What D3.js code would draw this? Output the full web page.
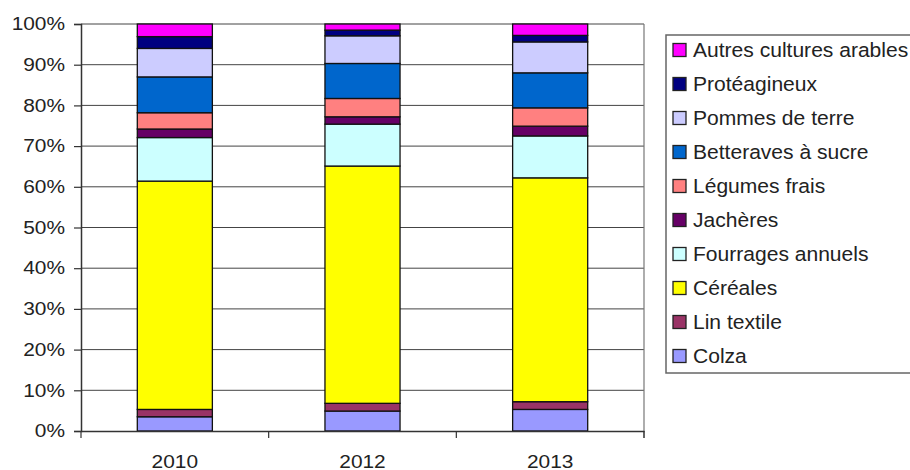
<!DOCTYPE html>
<html><head><meta charset="utf-8">
<script src="https://cdn.jsdelivr.net/npm/d3@7"></script>
<style>body{margin:0;background:#fff}svg{display:block}</style>
</head><body>
<svg id="c" width="910" height="470"></svg>
<script>
const years = ["2010", "2012", "2013"];
const seriesNames = ["Colza", "Lin textile", "Céréales", "Fourrages annuels", "Jachères",
  "Légumes frais", "Betteraves à sucre", "Pommes de terre", "Protéagineux", "Autres cultures arables"];
const colza = [3.5, 4.9, 5.3];
const linTextile = [1.8, 1.9, 1.9];
const cereales = [56.1, 58.3, 55.0];
const fourrages = [10.7, 10.3, 10.3];
const jacheres = [2.1, 1.8, 2.4];
const legumes = [4.0, 4.5, 4.5];
const betteraves = [8.8, 8.6, 8.6];
const pommes = [7.0, 6.8, 7.6];
const proteagineux = [2.9, 1.4, 1.6];
const autres = [3.1, 1.5, 2.8];
const colors = ["#9999FF", "#993366", "#FFFF00", "#CCFFFF", "#660066",
  "#FF8080", "#0066CC", "#CCCCFF", "#000080", "#FF00FF"];
const yTicks = [0, 10, 20, 30, 40, 50, 60, 70, 80, 90, 100];

const seriesVals = [colza, linTextile, cereales, fourrages, jacheres, legumes, betteraves, pommes, proteagineux, autres];
const table = years.map((y, i) => {
  const row = {year: y};
  const tot = d3.sum(seriesVals, s => s[i]);
  seriesNames.forEach((n, k) => row[n] = seriesVals[k][i] / tot);
  return row;
});
const stacked = d3.stack().keys(seriesNames)(table);

const svg = d3.select("#c");
const L = 81, R = 644, T = 24, B = 431;
const x = d3.scaleBand().domain(years).range([L, R]).paddingInner(0.6).paddingOuter(0.3);
const y = d3.scaleLinear().domain([0, 1]).range([B, T]);
const font = "Liberation Sans, Arial, sans-serif";
const sx = 1.16;

// grid
svg.append("g").selectAll("line").data(yTicks.filter(t => t > 0)).join("line")
  .attr("x1", L).attr("x2", R).attr("y1", d => y(d / 100)).attr("y2", d => y(d / 100))
  .attr("stroke", "#444").attr("stroke-width", 1);
// right border
svg.append("line").attr("x1", R).attr("x2", R).attr("y1", T).attr("y2", B + 7)
  .attr("stroke", "#777").attr("stroke-width", 1.2);

// bars
svg.append("g").selectAll("g").data(stacked).join("g")
  .attr("fill", (d, i) => colors[i])
  .selectAll("rect").data(d => d).join("rect")
  .attr("x", d => x(d.data.year)).attr("width", x.bandwidth())
  .attr("y", d => y(d[1])).attr("height", d => y(d[0]) - y(d[1]))
  .attr("stroke", "#111").attr("stroke-width", 1.3);

// y axis
const yAxis = d3.axisLeft(y).tickValues(yTicks.map(t => t / 100)).tickFormat((d, i) => yTicks[i] + "%").tickSize(7).tickPadding(9);
const gy = svg.append("g").attr("transform", `translate(${L},0)`).call(yAxis);
gy.select(".domain").attr("stroke", "#333").attr("stroke-width", 1.5);
gy.selectAll(".tick line").attr("stroke", "#333").attr("stroke-width", 1.2);
gy.selectAll("text").attr("font-family", font).attr("font-size", 18).attr("fill", "#222")
  .attr("x", -16 / sx).attr("transform", `scale(${sx},1)`);

// x axis
const xAxis = d3.axisBottom(x).tickSize(0).tickPadding(24);
const gx = svg.append("g").attr("transform", `translate(0,${B})`).call(xAxis);
gx.select(".domain").attr("stroke", "#333").attr("stroke-width", 1.5);
gx.selectAll("text").attr("font-family", font).attr("font-size", 18).attr("fill", "#222")
  .attr("transform", `scale(${sx},1)`);
gx.selectAll(".tick").each(function(d) {
  const cx = x(d) + x.bandwidth() / 2;
  d3.select(this).attr("transform", `translate(${cx},0)`);
  d3.select(this).select("text").attr("x", 0);
});
// category boundary ticks
const bounds = years.map((d, i) => L + i * x.step()).concat([R]);
svg.append("g").selectAll("line").data(bounds).join("line")
  .attr("x1", d => d).attr("x2", d => d).attr("y1", B).attr("y2", B + 7)
  .attr("stroke", "#333").attr("stroke-width", 1.2);

// legend
const lg = svg.append("g");
lg.append("rect").attr("x", 666).attr("y", 35).attr("width", 260).attr("height", 338)
  .attr("fill", "#fff").attr("stroke", "#666").attr("stroke-width", 1.5);
const order = seriesNames.map((n, i) => i).reverse();
const lsx = 1.08;
const items = lg.selectAll("g.it").data(order).join("g").attr("class", "it")
  .attr("transform", (d, j) => `translate(673,${50 + j * 34})`);
items.append("rect").attr("x", 0).attr("y", -6.5).attr("width", 13).attr("height", 13)
  .attr("fill", d => colors[d]).attr("stroke", "#222").attr("stroke-width", 1.3);
items.append("text").attr("x", 20 / lsx).attr("y", 0).attr("dy", "0.36em")
  .attr("transform", `scale(${lsx},1)`)
  .attr("font-family", font).attr("font-size", 19.5).attr("fill", "#222")
  .text(d => seriesNames[d]);
</script>
</body></html>
